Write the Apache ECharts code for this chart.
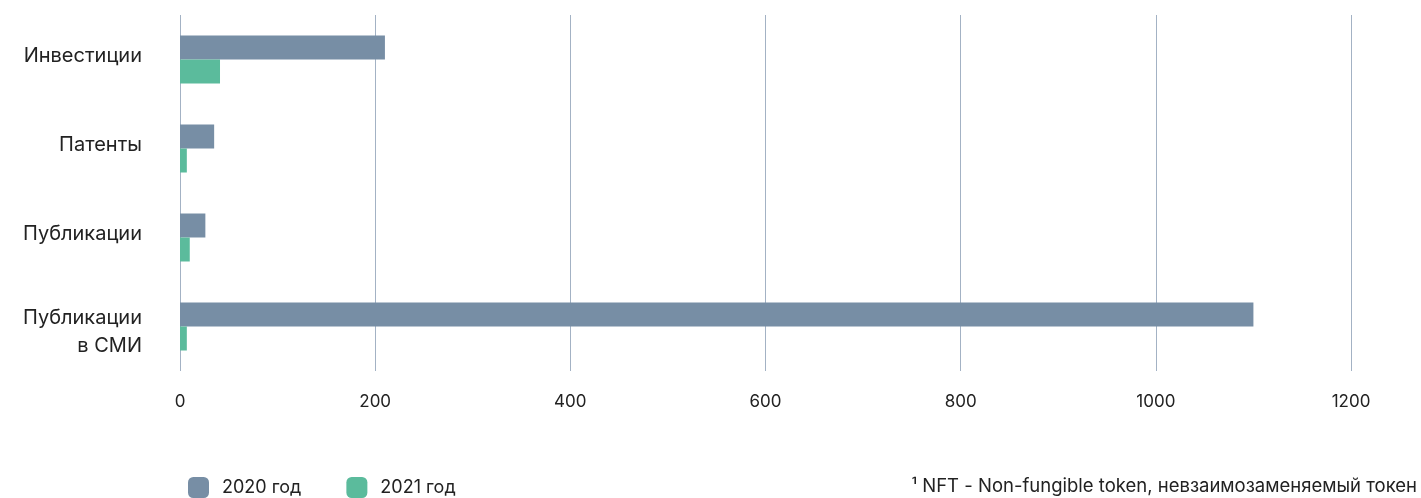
<!DOCTYPE html>
<html>
<head>
<meta charset="utf-8">
<script src="https://cdn.jsdelivr.net/npm/echarts@6/dist/echarts.min.js"></script>
<style>
  html, body { margin: 0; padding: 0; background: #fff; }
  #chart { width: 1421px; height: 498px; }
</style>
</head>
<body>
<div id="chart"></div>
<script>
// Categories (top to bottom) and yearly values
const categories = ['Инвестиции', 'Патенты', 'Публикации', 'Публикации\nв СМИ'];
const values2020 = [210, 35, 26, 1100];
const values2021 = [41, 7, 10, 7];
const seriesNames = ['2020 год', '2021 год'];
const xTicks = { min: 0, max: 1200, interval: 200 };
const footnote = '¹ NFT - Non-fungible token, невзаимозаменяемый токен';

const FONT = 'Inter, "Noto Sans", sans-serif';
const chart = echarts.init(document.getElementById('chart'));

// Category labels sit slightly above the bar pair; line heights set the offset
function categoryLabel(value) {
  const lines = value.split('\n');
  if (lines.length === 1) return '{one|' + lines[0] + '}\n{pad| }';
  return '{top|' + lines[0] + '}\n{bot|' + lines[1] + '}';
}

chart.setOption({
  animation: false,
  textStyle: { fontFamily: FONT },
  grid: { left: 180, right: 70, top: 15, bottom: 127, containLabel: false },
  legend: {
    left: 188, top: 477, padding: 0,
    itemWidth: 21, itemHeight: 21, itemGap: 45,
    icon: 'roundRect',
    textStyle: { fontSize: 18, color: '#222', fontFamily: FONT, padding: [0, 0, 0, 8] },
    data: seriesNames
  },
  xAxis: {
    type: 'value',
    min: xTicks.min, max: xTicks.max, interval: xTicks.interval,
    axisLine: { show: false },
    axisTick: { show: false },
    axisLabel: {
      color: '#222', fontSize: 17, margin: 22, fontFamily: FONT,
      formatter: v => String(v)
    },
    splitLine: { show: true, lineStyle: { color: '#a3b2c4', width: 1 } }
  },
  yAxis: {
    type: 'category',
    inverse: true,
    data: categories,
    axisLine: { show: false },
    axisTick: { show: false },
    axisLabel: {
      color: '#222', fontSize: 20, margin: 38, align: 'right', fontFamily: FONT,
      formatter: categoryLabel,
      rich: {
        one: { fontSize: 20, color: '#222', fontFamily: FONT, lineHeight: 24, align: 'right' },
        pad: { fontSize: 8, lineHeight: 8 },
        top: { fontSize: 20, color: '#222', fontFamily: FONT, lineHeight: 38, align: 'right' },
        bot: { fontSize: 20, color: '#222', fontFamily: FONT, lineHeight: 17, align: 'right' }
      }
    }
  },
  series: [
    {
      name: seriesNames[0], type: 'bar', data: values2020,
      barWidth: 24, barGap: '0%',
      itemStyle: { color: '#778ea5' }
    },
    {
      name: seriesNames[1], type: 'bar', data: values2021,
      barWidth: 24, barGap: '0%',
      itemStyle: { color: '#5bbb9c' }
    }
  ],
  graphic: [{
    type: 'text', right: 4, top: 477,
    style: { text: footnote, fontSize: 18.5, fill: '#222', fontFamily: FONT }
  }]
});
</script>
</body>
</html>
